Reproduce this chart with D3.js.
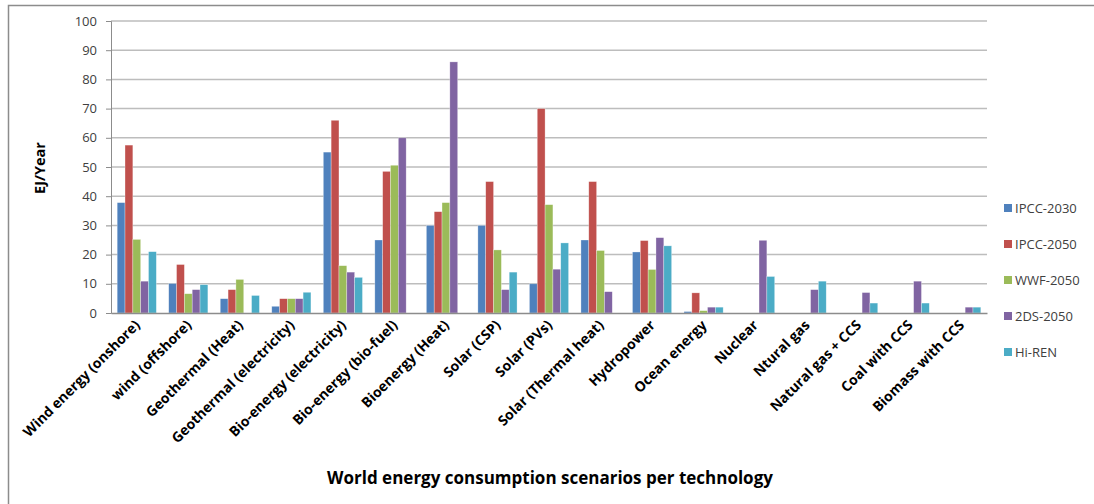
<!DOCTYPE html>
<html>
<head>
<meta charset="utf-8">
<script src="https://cdn.jsdelivr.net/npm/d3@7"></script>
<style>
  body { margin: 0; background: #fff; }
  svg text { font-family: "Open Sans", "Noto Sans", sans-serif; }
</style>
</head>
<body>
<div id="chart"></div>
<script>
// categories on the x axis
var categories = ["Wind energy (onshore)", "wind (offshore)", "Geothermal (Heat)", "Geothermal (electricity)",
    "Bio-energy (electricity)", "Bio-energy (bio-fuel)", "Bioenergy (Heat)", "Solar (CSP)", "Solar (PVs)",
    "Solar (Thermal heat)", "Hydropower", "Ocean energy", "Nuclear", "Ntural gas", "Natural gas + CCS",
    "Coal with CCS", "Biomass with CCS"];

var seriesNames = ["IPCC-2030", "IPCC-2050", "WWF-2050", "2DS-2050", "Hi-REN"];

// values (null = no bar)
var ipcc2030 = [37.8, 10.1, 4.9, 2.3, 55.1, 25, 30, 30, 10, 25, 20.9, 0.5, null, null, null, null, null];
var ipcc2050 = [57.5, 16.6, 8, 4.9, 66, 48.5, 34.7, 45, 70, 45, 24.8, 6.9, null, null, null, null, null];
var wwf2050  = [25.2, 6.6, 11.5, 4.9, 16.2, 50.6, 37.8, 21.6, 37.1, 21.4, 14.9, 0.8, null, null, null, null, null];
var ds2050   = [10.9, 8, null, 4.9, 14, 60, 86, 8, 15, 7.3, 25.8, 2, 24.9, 8, 7, 10.9, 2];
var hiren    = [21, 9.7, 6, 7.1, 12.2, null, null, 14, 24, null, 23, 2, 12.5, 10.9, 3.4, 3.4, 2];

var yTicks = [0, 10, 20, 30, 40, 50, 60, 70, 80, 90, 100];
var colors = ["#4F81BD", "#C0504D", "#9BBB59", "#8064A2", "#4BACC6"];

var allSeries = [ipcc2030, ipcc2050, wwf2050, ds2050, hiren];

var width = 1094, height = 504;
var margin = {left: 111, right: 107, top: 21, bottom: 191};

var svg = d3.select("#chart").append("svg")
    .attr("width", width)
    .attr("height", height);

// chart frame
svg.append("rect")
    .attr("x", 8.5).attr("y", 5.5)
    .attr("width", width + 20).attr("height", height + 20)
    .attr("fill", "none")
    .attr("stroke", "#8c8c8c")
    .attr("stroke-width", 1.5);

var plotW = width - margin.left - margin.right,
    plotH = height - margin.top - margin.bottom;

var x0 = d3.scaleBand().domain(categories).range([0, plotW]).paddingInner(0.24).paddingOuter(0.12);
var x1 = d3.scaleBand().domain(seriesNames).range([0, x0.bandwidth()]);
var y = d3.scaleLinear().domain([0, 100]).range([plotH, 0]);
var color = d3.scaleOrdinal().domain(seriesNames).range(colors);

var g = svg.append("g").attr("transform", "translate(" + margin.left + "," + margin.top + ")");

// gridlines
g.append("g")
    .selectAll("line")
    .data(yTicks.slice(1))
    .enter().append("line")
    .attr("x1", 0).attr("x2", plotW)
    .attr("y1", function (d) { return y(d); })
    .attr("y2", function (d) { return y(d); })
    .attr("stroke", "#bdbdbd")
    .attr("stroke-width", 1.5);

// y axis
var yAxis = g.append("g")
    .call(d3.axisLeft(y).tickValues(yTicks).tickSize(5).tickPadding(9));
yAxis.select(".domain").attr("stroke", "#8c8c8c");
yAxis.selectAll(".tick line").attr("stroke", "#8c8c8c");
yAxis.selectAll("text")
    .attr("fill", "#404040")
    .style("font-size", "13px");

// bars
var rows = categories.map(function (c, i) {
    return {cat: c, vals: seriesNames.map(function (s, j) { return {s: s, v: allSeries[j][i]}; })};
});

g.append("g").selectAll("g")
    .data(rows)
    .enter().append("g")
    .attr("transform", function (d) { return "translate(" + x0(d.cat) + ",0)"; })
    .selectAll("rect")
    .data(function (d) { return d.vals.filter(function (e) { return e.v !== null; }); })
    .enter().append("rect")
    .attr("x", function (d) { return x1(d.s); })
    .attr("width", x1.bandwidth())
    .attr("y", function (d) { return y(d.v); })
    .attr("height", function (d) { return y(0) - y(d.v); })
    .attr("fill", function (d) { return color(d.s); })
    .attr("stroke", "#ffffff")
    .attr("stroke-opacity", 0.5)
    .attr("stroke-width", 0.6);

// x axis baseline
var xAxis = g.append("g")
    .attr("transform", "translate(0," + plotH + ")")
    .call(d3.axisBottom(x0).tickSize(0).tickPadding(0));
xAxis.select(".domain").attr("stroke", "#8c8c8c").attr("stroke-width", 1.5);
xAxis.selectAll("text")
    .attr("text-anchor", "end")
    .attr("dy", "0")
    .attr("transform", "translate(4,13) rotate(-45)")
    .attr("fill", "#000")
    .style("font-size", "14px")
    .style("font-weight", "bold");

// axis titles
svg.append("text")
    .attr("x", margin.left + plotW / 2 + 1)
    .attr("y", 484)
    .attr("text-anchor", "middle")
    .style("font-size", "17px")
    .style("font-weight", "bold")
    .text("World energy consumption scenarios per technology");

svg.append("text")
    .attr("transform", "translate(45," + (margin.top + plotH / 2 + 1) + ") rotate(-90)")
    .attr("text-anchor", "middle")
    .style("font-size", "14.5px")
    .style("font-weight", "bold")
    .text("EJ/Year");

// legend
var legend = svg.append("g").attr("transform", "translate(1004,204)");
var items = legend.selectAll("g")
    .data(seriesNames)
    .enter().append("g")
    .attr("transform", function (d, i) { return "translate(0," + i * 36 + ")"; });
items.append("rect")
    .attr("width", 8).attr("height", 8)
    .attr("fill", function (d) { return color(d); });
items.append("text")
    .attr("x", 11).attr("y", 8.5)
    .attr("fill", "#404040")
    .style("font-size", "13px")
    .text(function (d) { return d; });
</script>
</body>
</html>
